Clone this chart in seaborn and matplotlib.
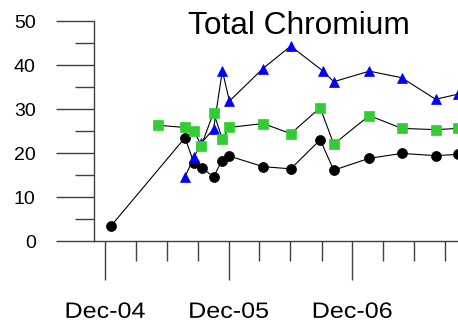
import matplotlib
matplotlib.use("Agg")
import matplotlib.pyplot as plt
import matplotlib.dates as mdates
import matplotlib.patheffects as pe
from matplotlib.transforms import Affine2D
import pandas as pd
import seaborn as sns

# Sampling dates and concentrations for each series
dates_black = ["2004-12-18", "2005-07-25", "2005-08-20", "2005-09-13", "2005-10-17",
               "2005-11-10", "2005-12-03", "2006-03-12", "2006-06-02", "2006-08-28",
               "2006-10-07", "2007-01-20", "2007-04-26", "2007-08-04", "2007-10-10"]
values_black = [3.4, 23.5, 17.7, 16.7, 14.5, 18.2, 19.3, 16.9, 16.4, 23.0,
                16.1, 18.8, 19.9, 19.4, 19.7]

dates_blue = ["2005-07-25", "2005-08-20", "2005-09-11", "2005-10-17", "2005-11-12",
              "2005-12-03", "2006-03-12", "2006-06-02", "2006-09-04", "2006-10-07",
              "2007-01-20", "2007-04-26", "2007-08-04", "2007-10-10"]
values_blue = [14.6, 19.0, 22.3, 25.4, 38.7, 31.8, 39.2, 44.3, 38.7, 36.2,
               38.6, 37.1, 32.2, 33.4]

dates_green = ["2005-05-07", "2005-07-25", "2005-08-20", "2005-09-11", "2005-10-17",
               "2005-11-12", "2005-12-03", "2006-03-12", "2006-06-02", "2006-08-28",
               "2006-10-07", "2007-01-20", "2007-04-26", "2007-08-04", "2007-10-10"]
values_green = [26.3, 25.8, 25.1, 21.7, 29.2, 23.2, 25.8, 26.7, 24.4, 30.3,
                22.0, 28.5, 25.6, 25.3, 25.6]

title = "Total Chromium"
y_ticks = [0, 10, 20, 30, 40, 50]


class WideText(pe.AbstractPathEffect):
    """Draw text glyphs stretched horizontally about their centre."""

    def __init__(self, sx=1.0):
        super().__init__()
        self.sx = sx

    def draw_path(self, renderer, gc, tpath, affine, rgbFace=None):
        ext = tpath.get_extents()
        cx = 0.5 * (ext.x0 + ext.x1)
        stretch = Affine2D().translate(-cx, 0).scale(self.sx, 1).translate(cx, 0)
        renderer.draw_path(gc, tpath, stretch + affine, rgbFace)


sns.set_style("ticks")
plt.rcParams["font.family"] = ["Liberation Sans", "DejaVu Sans"]

fig = plt.figure(figsize=(4.58, 3.23), dpi=100)
ax = fig.add_axes([94 / 458, 82 / 323, 1 - 94 / 458, 220 / 323])

axis_color = "#404040"
series = [
    (dates_black, values_black, "o", "black", 7.2),
    (dates_blue, values_blue, "^", "#0000FF", 7.6),
    (dates_green, values_green, "s", "#33CC33", 7.0),
]
for d, v, mk, col, ms in series:
    df = pd.DataFrame({"date": pd.to_datetime(d), "value": v})
    sns.lineplot(data=df, x="date", y="value", ax=ax, color="black",
                 linewidth=0.8, marker=mk, markersize=ms,
                 markerfacecolor=col, markeredgecolor=col,
                 markeredgewidth=0.5, clip_on=False)

ax.set_xlabel("")
ax.set_ylabel("")
ax.set_ylim(0, 50)
ax.set_xlim(pd.Timestamp("2004-10-29"), pd.Timestamp("2007-10-09"))

ax.set_yticks(y_ticks)
ax.set_yticks([5, 15, 25, 35, 45], minor=True)
ax.xaxis.set_major_locator(mdates.MonthLocator(bymonth=12))
ax.xaxis.set_minor_locator(mdates.MonthLocator(bymonth=[3, 6, 9]))
ax.xaxis.set_major_formatter(mdates.DateFormatter("%b-%y"))

for s in ["top", "right"]:
    ax.spines[s].set_visible(False)
for s in ["left", "bottom"]:
    ax.spines[s].set_color(axis_color)
    ax.spines[s].set_linewidth(1.0)

ax.tick_params(axis="y", which="major", length=27.6, width=1.0, color=axis_color,
               direction="out", pad=14.4, labelsize=14, labelcolor="black")
ax.tick_params(axis="y", which="minor", length=13.5, width=1.0, color=axis_color,
               direction="out")
ax.tick_params(axis="x", which="major", length=27.8, width=1.0, color=axis_color,
               direction="out", pad=16.0, labelsize=16, labelcolor="black")
ax.tick_params(axis="x", which="minor", length=14.4, width=1.0, color=axis_color,
               direction="out")

for lbl in ax.get_xticklabels():
    lbl.set_path_effects([WideText(1.13)])

fig.text(298.5 / 458, 1 - 34.3 / 323, title, ha="center", va="baseline",
         fontsize=22.8, color="black")

fig.savefig("out.png", dpi=100, facecolor="white")
